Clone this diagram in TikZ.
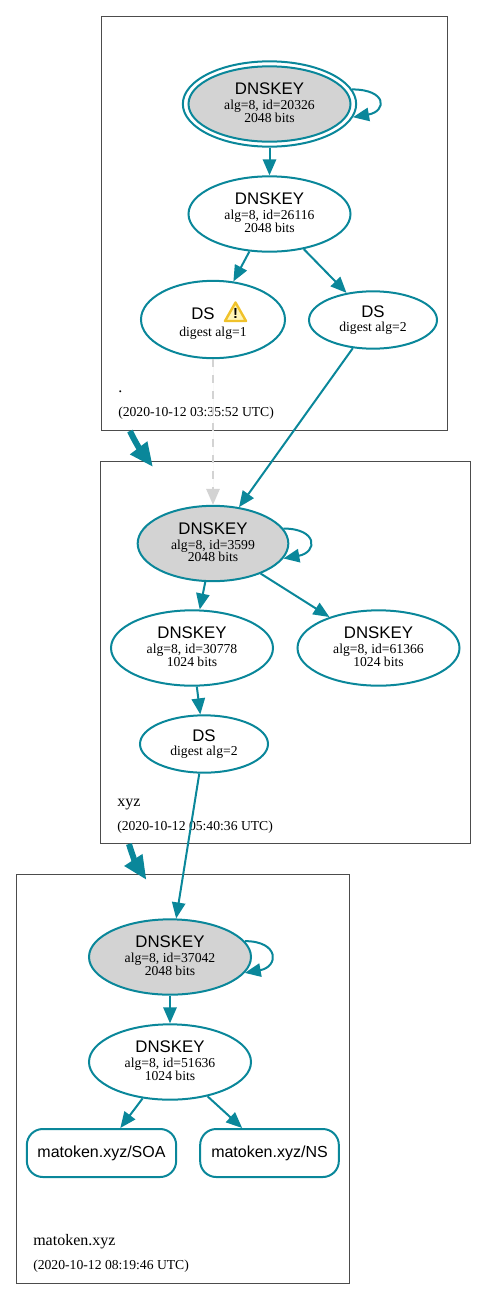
\documentclass[tikz,border=0pt]{standalone}
\usepackage{fontspec}
\setmainfont{Liberation Serif}
\setsansfont{Liberation Sans}
\usetikzlibrary{shapes.geometric,arrows.meta}
\definecolor{dnsteal}{HTML}{0A879A}
\definecolor{keygray}{HTML}{D3D3D3}
\definecolor{warnedge}{HTML}{F0C22B}
\definecolor{warnfill}{HTML}{FFF5B8}
\newcommand{\dnstitle}[1]{{\sffamily\fontsize{12.6}{13}\selectfont #1}}
\newcommand{\keytext}[2]{\dnstitle{DNSKEY}\\[1.5pt]alg=8, id=#1\\[-0.75pt]#2 bits\rule[-2.2pt]{0pt}{2.2pt}}
\tikzset{
  dnsnode/.style={ellipse, draw=dnsteal, line width=1.5pt, inner sep=0pt, align=center,
    font=\fontsize{10.25}{10}\selectfont},
  keybox/.style={dnsnode, minimum width=121.5pt, minimum height=56.5pt},
  dsbox/.style={dnsnode, minimum width=96pt, minimum height=43pt},
  rrbox/.style={draw=dnsteal, line width=1.5pt, rounded corners=12pt, minimum height=36pt,
    inner sep=0pt, font=\sffamily\fontsize{12}{12}\selectfont},
  zonelabel/.style={anchor=base west, inner sep=0pt, font=\fontsize{12}{12}\selectfont},
  datelabel/.style={anchor=base west, inner sep=0pt, font=\fontsize{10.25}{10}\selectfont},
  zoneframe/.style={draw=black!70, line width=0.7pt},
  edge/.style={draw=dnsteal, line width=1.5pt, -{Triangle[length=12pt,width=10pt]}},
  zoneedge/.style={draw=dnsteal, line width=4.5pt, -{Triangle[length=18pt,width=15pt]}}
}
\begin{document}
\begin{tikzpicture}[x=0.75pt, y=-0.75pt]
  \useasboundingbox (0,0) rectangle (487,1299);

  % zone frames
  \draw[zoneframe] (101.5,16) rectangle (447.5,430.5);
  \draw[zoneframe] (100,461) rectangle (470.5,843.5);
  \draw[zoneframe] (16,874.5) rectangle (349.5,1283);

  % root zone
  \node[keybox, minimum width=130pt, minimum height=64pt] (rootkskouter) at (269.5,104) {};
  \node[keybox, fill=keygray] (rootksk) at (269.5,104) {\keytext{20326}{2048}};
  \node[keybox] (rootzsk) at (269.5,214) {\keytext{26116}{2048}};
  \node[dsbox, minimum width=108pt, minimum height=58pt] (rootdsa) at (213,319.5) {\rule{0pt}{15pt}\dnstitle{DS\kern15pt}\\[3pt]digest alg=1};
  \node[dsbox] (rootdsb) at (373,320) {\dnstitle{DS}\\digest alg=2};
  \node[zonelabel] (rootname) at (118,392) {.};
  \node[datelabel] (rootdate) at (118,416) {(2020-10-12 03:35:52 UTC)};

  % warning sign
  \draw[draw=warnedge, fill=warnfill, line width=1.8pt, line join=round] (225,321) -- (235.5,302.5) -- (246,321) -- cycle;
  \node[inner sep=0pt, font=\bfseries\sffamily\fontsize{11}{11}\selectfont] (warnmark) at (235.5,313.5) {!};

  % xyz zone
  \node[keybox, minimum width=113pt, fill=keygray] (xyzksk) at (213,543.5) {\keytext{3599}{2048}};
  \node[keybox] (xyzzska) at (192,648) {\keytext{30778}{1024}};
  \node[keybox] (xyzzskb) at (378.5,648) {\keytext{61366}{1024}};
  \node[dsbox] (xyzds) at (204,744) {\dnstitle{DS}\\digest alg=2};
  \node[zonelabel] (xyzname) at (117,806) {xyz};
  \node[datelabel] (xyzdate) at (117,830) {(2020-10-12 05:40:36 UTC)};

  % matoken.xyz zone
  \node[keybox, fill=keygray] (matksk) at (170,957) {\keytext{37042}{2048}};
  \node[keybox] (matzsk) at (170,1062) {\keytext{51636}{1024}};
  \node[rrbox, minimum width=112pt] (matsoa) at (101.5,1153) {matoken.xyz/SOA};
  \node[rrbox, minimum width=104pt] (matns) at (269.5,1153) {matoken.xyz/NS};
  \node[zonelabel] (matname) at (33,1245) {matoken.xyz};
  \node[datelabel] (matdate) at (33,1269) {(2020-10-12 08:19:46 UTC)};

  % edges inside zones
  \draw[edge] (rootkskouter.10) .. controls +(35,0) and +(34,-6) .. (rootkskouter.-9);
  \draw[edge] (rootkskouter) -- (rootzsk);
  \draw[edge] (rootzsk) -- (rootdsa);
  \draw[edge] (rootzsk) -- (rootdsb);
  \draw[edge] (xyzksk.12) .. controls +(35,0) and +(34,-6) .. (xyzksk.-12);
  \draw[edge] (xyzksk) -- (xyzzska);
  \draw[edge] (xyzksk) -- (xyzzskb);
  \draw[edge] (xyzzska) -- (xyzds);
  \draw[edge] (matksk.12) .. controls +(35,0) and +(34,-6) .. (matksk.-12);
  \draw[edge] (matksk) -- (matzsk);
  \draw[edge] (matzsk) -- (matsoa);
  \draw[edge] (matzsk) -- (matns);

  % edges across zones
  \draw[edge, draw=keygray, fill=keygray, dashed, dash pattern=on 6pt off 6pt] (rootdsa) -- (xyzksk);
  \draw[edge] (rootdsb) -- (xyzksk);
  \draw[edge] (xyzds) -- (matksk);
  \coordinate (rootout) at (130,431);
  \coordinate (xyzin) at (153,467);
  \coordinate (xyzout) at (129,844);
  \coordinate (matin) at (146.5,880);
  \draw[zoneedge] (rootout) .. controls (134,440) and (141,451) .. (xyzin);
  \draw[zoneedge] (xyzout) .. controls (131,851) and (136,864) .. (matin);
\end{tikzpicture}
\end{document}
